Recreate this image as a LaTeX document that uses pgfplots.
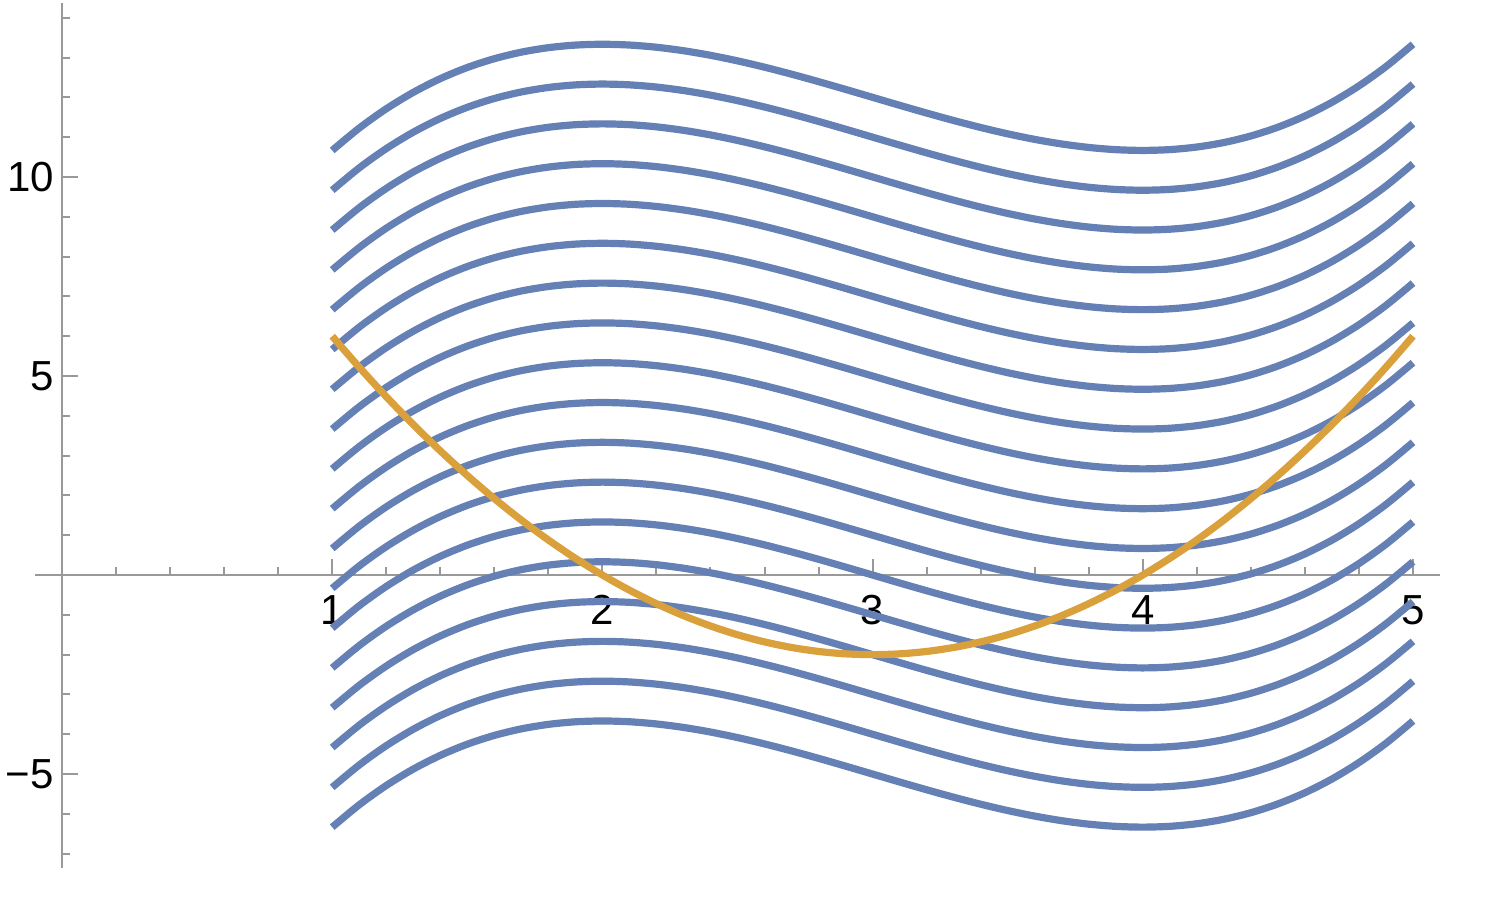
\documentclass[border=0pt]{standalone}
\usepackage{pgfplots}
\pgfplotsset{compat=1.18}
\usepackage{pgfplotstable}
\usepackage{fontspec}
\setmainfont{Liberation Sans}
\definecolor{mblue}{RGB}{100,128,180}
\definecolor{morange}{RGB}{218,160,60}
\definecolor{axgray}{gray}{0.6}
\pgfplotstableread{
x    F         f
1.0  10.66667  6.00
1.1  11.22733  5.22
1.2  11.71200  4.48
1.3  12.12467  3.78
1.4  12.46933  3.12
1.5  12.75000  2.50
1.6  12.97067  1.92
1.7  13.13533  1.38
1.8  13.24800  0.88
1.9  13.31267  0.42
2.0  13.33333  0.00
2.1  13.31400 -0.38
2.2  13.25867 -0.72
2.3  13.17133 -1.02
2.4  13.05600 -1.28
2.5  12.91667 -1.50
2.6  12.75733 -1.68
2.7  12.58200 -1.82
2.8  12.39467 -1.92
2.9  12.19933 -1.98
3.0  12.00000 -2.00
3.1  11.80067 -1.98
3.2  11.60533 -1.92
3.3  11.41800 -1.82
3.4  11.24267 -1.68
3.5  11.08333 -1.50
3.6  10.94400 -1.28
3.7  10.82867 -1.02
3.8  10.74133 -0.72
3.9  10.68600 -0.38
4.0  10.66667  0.00
4.1  10.68733  0.42
4.2  10.75200  0.88
4.3  10.86467  1.38
4.4  11.02933  1.92
4.5  11.25000  2.50
4.6  11.53067  3.12
4.7  11.87533  3.78
4.8  12.28800  4.48
4.9  12.77267  5.22
5.0  13.33333  6.00
}\data
\begin{document}
\begin{tikzpicture}
\useasboundingbox (-8.75pt,-11pt) rectangle (363.75pt,217pt);
\begin{axis}[
  scale only axis,
  width=351.25pt, height=216.25pt,
  anchor=south west, at={(0,0)},
  axis lines=middle,
  xmin=-0.1, xmax=5.1, ymin=-7.36, ymax=14.37,
  axis line style={axgray, line width=0.5pt, -},
  tick style={axgray, line width=0.5pt},
  tick align=inside,
  major tick length=4pt,
  minor tick length=2pt,
  xtick={1,2,3,4,5},
  minor xtick={0.2,0.4,0.6,0.8,1.2,1.4,1.6,1.8,2.2,2.4,2.6,2.8,3.2,3.4,3.6,3.8,4.2,4.4,4.6,4.8},
  ytick={-5,5,10},
  yticklabels={−5,5,10},
  minor ytick={-7,-6,-4,-3,-2,-1,1,2,3,4,6,7,8,9,11,12,13,14},
  tick label style={font=\fontsize{10.5}{12}\selectfont, text=black},
  /pgf/number format/assume math mode=true,
  xticklabel style={anchor=north, yshift=-1.5pt},
  yticklabel style={anchor=east, xshift=1.5pt},
  clip=false,
]
\pgfplotsinvokeforeach{0,...,17}{
  \addplot[mblue, line width=1.8pt, smooth] table[x=x, y expr=\thisrow{F}-#1] {\data};
}
\addplot[morange, line width=1.8pt, smooth] table[x=x, y=f] {\data};
\end{axis}
\end{tikzpicture}
\end{document}
